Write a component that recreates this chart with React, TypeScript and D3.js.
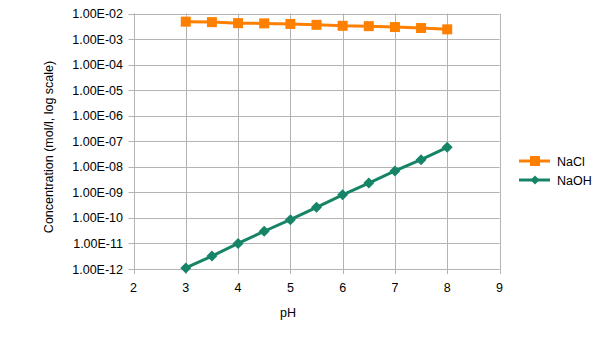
import React from "react";
import * as d3 from "d3";

const phValues = [3, 3.5, 4, 4.5, 5, 5.5, 6, 6.5, 7, 7.5, 8];
const naclValues = [4.8e-3, 4.6e-3, 4.2e-3, 4.1e-3, 3.9e-3, 3.6e-3, 3.3e-3, 3.2e-3, 2.95e-3, 2.7e-3, 2.4e-3];
const naohValues = [1.1e-12, 3.2e-12, 1.0e-11, 3.0e-11, 8.5e-11, 2.6e-10, 8.0e-10, 2.3e-9, 6.9e-9, 1.9e-8, 5.8e-8];
const xTicks = [2, 3, 4, 5, 6, 7, 8, 9];
const yTicks = [1e-2, 1e-3, 1e-4, 1e-5, 1e-6, 1e-7, 1e-8, 1e-9, 1e-10, 1e-11, 1e-12];
const seriesNames = ["NaCl", "NaOH"];
const colors = ["#ff8000", "#168466"];

const left = 133.5, right = 499.5, top = 13.5, bottom = 269;
const font = "'Liberation Sans', Arial, sans-serif";

function fmt(v: number) {
  const e = Math.round(Math.log10(v));
  const m = v / Math.pow(10, e);
  const sign = e < 0 ? "-" : "+";
  return `${m.toFixed(2)}E${sign}${String(Math.abs(e)).padStart(2, "0")}`;
}

export default function App() {
  const x = d3.scaleLinear().domain([2, 9]).range([left, right]);
  const y = d3.scaleLog().domain([1e-12, 1e-2]).range([bottom, top]);
  const line = d3.line<[number, number]>().x(d => x(d[0])).y(d => y(d[1]));
  const naclPts: [number, number][] = phValues.map((p, i) => [p, naclValues[i]]);
  const naohPts: [number, number][] = phValues.map((p, i) => [p, naohValues[i]]);
  const sq = d3.symbol().type(d3.symbolSquare).size(100)();
  const dia = (cx: number, cy: number, r: number) =>
    `M${cx},${cy - r}L${cx + r},${cy}L${cx},${cy + r}L${cx - r},${cy}Z`;

  return (
    <svg width={605} height={340} style={{ position: "absolute", left: 0, top: 0 }}>
      <rect x={0} y={0} width={605} height={340} fill="#fff" />
      {yTicks.map((t, i) => (
        <g key={"y" + i}>
          <line x1={left - 5} x2={right} y1={Math.round(y(t)) + 0.5} y2={Math.round(y(t)) + 0.5} stroke="#b3b3b3" strokeWidth={1} />
          <text x={123} y={y(t) + 4.5} textAnchor="end" fontFamily={font} fontSize={12.5} fill="#000">{fmt(t)}</text>
        </g>
      ))}
      {xTicks.map((t, i) => (
        <g key={"x" + i}>
          <line x1={Math.round(x(t)) + 0.5} x2={Math.round(x(t)) + 0.5} y1={top} y2={bottom + 5} stroke="#b3b3b3" strokeWidth={1} />
          <text x={x(t)} y={292} textAnchor="middle" fontFamily={font} fontSize={12.5} fill="#000">{t}</text>
        </g>
      ))}
      <text x={288} y={317} textAnchor="middle" fontFamily={font} fontSize={12.5} fill="#000">pH</text>
      <text transform={`translate(53,147) rotate(-90)`} textAnchor="middle" fontFamily={font} fontSize={12.5} fill="#000">Concentration (mol/l, log scale)</text>

      <path d={line(naclPts) || ""} fill="none" stroke={colors[0]} strokeWidth={3} />
      {naclPts.map((d, i) => (
        <path key={"n" + i} d={sq || ""} transform={`translate(${x(d[0])},${y(d[1])})`} fill={colors[0]} />
      ))}
      <path d={line(naohPts) || ""} fill="none" stroke={colors[1]} strokeWidth={3} />
      {naohPts.map((d, i) => (
        <path key={"h" + i} d={dia(x(d[0]), y(d[1]), 5.5)} fill={colors[1]} />
      ))}

      {seriesNames.map((n, i) => {
        const ly = 161 + i * 19;
        return (
          <g key={n}>
            <line x1={519} x2={550} y1={ly} y2={ly} stroke={colors[i]} strokeWidth={3} />
            {i === 0 ? (
              <rect x={530} y={ly - 5} width={10} height={10} fill={colors[i]} />
            ) : (
              <path d={dia(535, ly, 4.5)} fill={colors[i]} />
            )}
            <text x={557} y={ly + 4.5} fontFamily={font} fontSize={12.5} fill="#000">{n}</text>
          </g>
        );
      })}
    </svg>
  );
}
